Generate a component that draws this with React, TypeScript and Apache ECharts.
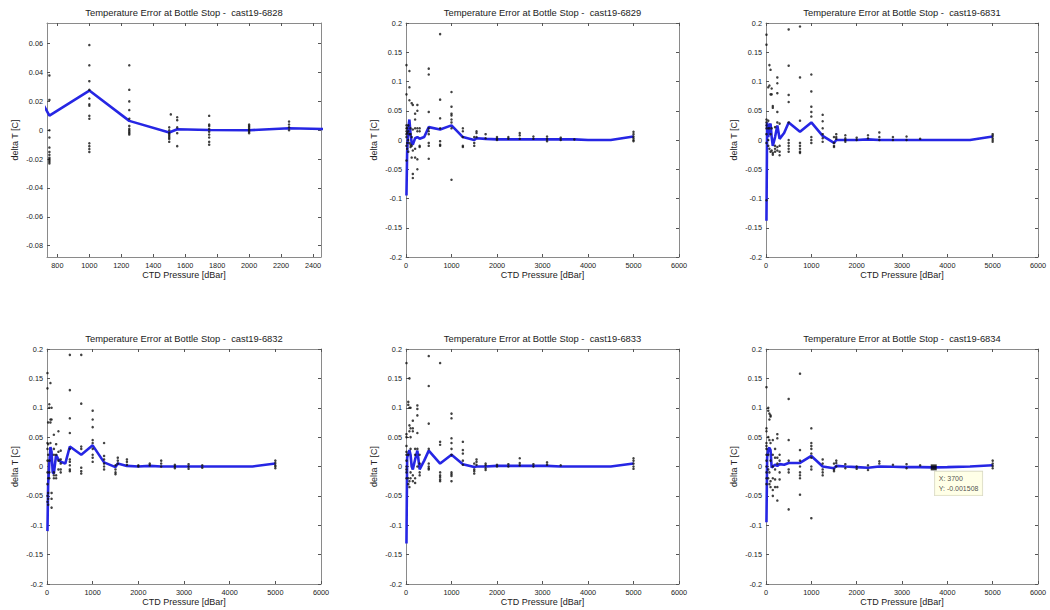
import React, { useEffect, useRef } from "react";
import * as echarts from "echarts";

// ---------------- data ----------------
const stdP = [10, 25, 50, 75, 100, 125, 150, 200, 250, 300, 400, 500, 750, 1000, 1250, 1500, 1550, 1750, 2000, 2250, 2500, 2800, 3100, 3400, 3700, 4000, 4500, 5000];

const p6828 = [500, 750, 1000, 1250, 1500, 1550, 1750, 2000, 2250, 2500];
const mean6828 = [0.06, 0.0102, 0.0275, 0.0065, -0.0016, 0.0007, 0.0002, 0.0, 0.0014, 0.0008];
const mean6829 = [-0.095, -0.02, 0.02, 0.035, 0.01, -0.005, -0.008, 0.003, 0.005, 0.002, 0.005, 0.022, 0.018, 0.025, 0.005, 0.0, 0.003, 0.002, 0.001, 0.001, 0.001, 0.001, 0.001, 0.001, 0.001, 0.0, 0.0, 0.006];
const mean6831 = [-0.138, 0.03, 0.005, 0.025, 0.028, 0.005, -0.01, 0.005, 0.025, 0.002, 0.012, 0.03, 0.014, 0.03, 0.007, -0.005, 0.0, 0.0, 0.0, 0.001, 0.0, 0.0, 0.0, 0.0, 0.0, 0.0, 0.0, 0.006];
const mean6832 = [-0.11, -0.03, 0.005, 0.033, 0.025, -0.01, -0.012, 0.02, 0.012, 0.008, 0.005, 0.034, 0.02, 0.036, 0.007, -0.001, 0.005, 0.001, 0.0, 0.001, 0.0, 0.0, 0.0, 0.0, 0.0, 0.0, 0.0, 0.005];
const mean6833 = [-0.131, 0.015, 0.022, 0.028, 0.02, 0.0, -0.005, 0.012, 0.027, -0.005, 0.01, 0.027, 0.005, 0.02, 0.004, -0.001, 0.0, 0.0, 0.001, 0.001, 0.001, 0.001, 0.001, 0.0, 0.0, 0.0, 0.0, 0.005];
const mean6834 = [-0.095, 0.015, 0.03, 0.032, 0.028, -0.002, 0.0, 0.003, 0.001, 0.004, 0.003, 0.006, 0.006, 0.018, 0.0, -0.003, 0.001, 0.0, -0.001, -0.002, 0.0, -0.0005, -0.001, -0.001, -0.001508, -0.001, 0.0, 0.002];

const pts6828: [number, number[]][] = [
  [750, [0.038, 0.021, 0.0, -0.005, -0.012, -0.015, -0.017, -0.019, -0.02, -0.021, -0.022, -0.023]],
  [1000, [0.059, 0.045, 0.034, 0.028, 0.022, 0.018, 0.017, 0.01, 0.008, -0.009, -0.011, -0.013, -0.015]],
  [1250, [0.045, 0.028, 0.02, 0.014, 0.008, 0.003, 0.001, 0.0, -0.001, -0.002, -0.003]],
  [1500, [0.002, 0.0, -0.002, -0.003, -0.004, -0.005, -0.006, -0.008]],
  [1510, [0.011]],
  [1550, [0.009, 0.007, 0.002, -0.002, -0.011]],
  [1750, [0.01, 0.004, 0.003, 0.001, -0.001, -0.003, -0.005, -0.008, -0.01]],
  [2000, [0.004, 0.003, 0.002, 0.001, 0.0, -0.001, -0.002]],
  [2250, [0.006, 0.004, 0.002, 0.0]],
];
const pts6829: [number, number[]][] = [
  [10, [0.128, 0.078, 0.025, 0.02, 0.015, 0.01, 0.005, -0.01, -0.035]],
  [25, [0.02, 0.012, -0.005, -0.015]],
  [50, [0.025, 0.015, 0.0, -0.02]],
  [75, [0.118, 0.09, 0.068, 0.01, -0.005]],
  [100, [0.02, 0.01, -0.008, -0.012]],
  [125, [0.063, 0.005, -0.01, -0.03]],
  [150, [0.06, 0.018, -0.018, -0.058, -0.065]],
  [200, [0.045, 0.035, 0.02, -0.015, -0.03]],
  [250, [0.06, 0.05, 0.02, 0.015, -0.033, -0.05]],
  [300, [0.02, 0.015, -0.01, -0.012]],
  [500, [0.122, 0.112, 0.048, 0.02, 0.015, 0.01, -0.005, -0.01, -0.032]],
  [750, [0.181, 0.069, 0.037, 0.02, -0.002, -0.008, -0.01]],
  [1000, [0.082, 0.057, 0.045, 0.042, 0.035, 0.03, 0.02, -0.068]],
  [1250, [0.02, 0.015, 0.005, -0.01, -0.012]],
  [1500, [0.005, -0.005, -0.01]],
  [1550, [0.015, 0.012, 0.005]],
  [1750, [0.01, 0.003]],
  [2000, [0.005, 0.002, 0.0]],
  [2250, [0.005, 0.002]],
  [2500, [0.012, 0.008, 0.002]],
  [2800, [0.006, 0.002]],
  [3100, [0.006, 0.002, -0.002]],
  [3400, [0.004, 0.0]],
  [3700, [0.001]],
  [5000, [0.014, 0.01, 0.006, 0.003, 0.0, -0.002]],
];
const pts6831: [number, number[]][] = [
  [10, [0.18, 0.163, 0.035, 0.03, 0.025, 0.02, 0.01, -0.005, -0.103]],
  [50, [0.09, 0.033, 0.02, 0.0, -0.01]],
  [75, [0.128, 0.093, 0.02, -0.015]],
  [100, [0.12, 0.078, 0.01, -0.02]],
  [125, [0.088, 0.078, 0.02, -0.018]],
  [150, [0.058, 0.055, -0.022, -0.025]],
  [200, [0.022, -0.01, -0.015, -0.02]],
  [250, [0.107, 0.097, 0.08, 0.048, 0.03, -0.012, -0.018]],
  [300, [0.028, -0.01, -0.02, -0.026]],
  [500, [0.189, 0.127, 0.077, 0.065, 0.03, 0.0, -0.005, -0.01, -0.015, -0.02]],
  [750, [0.194, 0.107, 0.033, -0.005, -0.01, -0.015, -0.02, -0.022]],
  [1000, [0.112, 0.083, 0.057, 0.048, 0.04, 0.005, 0.0, -0.005]],
  [1250, [0.043, 0.032, 0.02, 0.01, 0.003, -0.003]],
  [1500, [0.005, -0.005, -0.01, -0.012]],
  [1550, [0.01, 0.005, 0.002]],
  [1750, [0.008, 0.003, 0.0, -0.003]],
  [2000, [0.004, 0.0]],
  [2250, [0.008, 0.003]],
  [2500, [0.013, 0.005, 0.0]],
  [2800, [0.005, 0.0]],
  [3100, [0.006, 0.0]],
  [3400, [0.002]],
  [5000, [0.01, 0.007, 0.003, 0.0, -0.003]],
];
const pts6832: [number, number[]][] = [
  [10, [0.159, 0.133, 0.04, 0.03, 0.01, -0.01, -0.03, -0.05, -0.06]],
  [25, [0.075, 0.038, 0.02, -0.02, -0.045, -0.055, -0.065]],
  [50, [0.106, 0.1, 0.01, -0.01, -0.02]],
  [75, [0.142, 0.08, 0.075, 0.04]],
  [100, [0.1, 0.08, -0.045, -0.055, -0.07]],
  [150, [0.054, 0.03, 0.02, -0.01, -0.015, -0.02]],
  [200, [0.038, 0.02, -0.015, -0.02]],
  [250, [0.06, 0.025, 0.01, -0.005]],
  [300, [0.027, 0.012, 0.005, -0.005, -0.01]],
  [500, [0.19, 0.13, 0.082, 0.057, 0.03, 0.012, 0.008, 0.002, -0.005, -0.008]],
  [750, [0.19, 0.107, 0.034, 0.03, -0.002, -0.008, -0.012]],
  [1000, [0.095, 0.08, 0.067, 0.045, 0.04, 0.03, 0.02, 0.015, 0.008]],
  [1250, [0.04, 0.018, 0.012, 0.005, 0.0, -0.005]],
  [1500, [0.002, -0.005, -0.01, -0.013]],
  [1550, [0.015, 0.01, 0.005]],
  [1750, [0.012, 0.008, 0.003]],
  [2000, [0.002, 0.0]],
  [2250, [0.005, 0.002]],
  [2500, [0.01, 0.005, 0.0]],
  [2800, [0.003, 0.0, -0.003]],
  [3100, [0.004, 0.0, -0.004]],
  [3400, [0.002, -0.002]],
  [5000, [0.01, 0.006, 0.002, 0.0, -0.003]],
];
const pts6833: [number, number[]][] = [
  [10, [0.176, 0.055, 0.05, 0.035, 0.025, 0.02, 0.01, 0.0, -0.005, -0.01, -0.02]],
  [50, [0.11, 0.105, 0.02, -0.02, -0.03]],
  [75, [0.15, 0.1, 0.07, 0.06, -0.025, -0.035]],
  [100, [0.1, 0.065, 0.05, 0.03, -0.01, -0.02]],
  [150, [0.078, 0.065, 0.06, -0.015, -0.025]],
  [200, [0.03, 0.02, -0.02, -0.028]],
  [250, [0.104, 0.098, 0.087, 0.057, 0.03, 0.0]],
  [300, [0.02, 0.005, -0.01, -0.015]],
  [500, [0.188, 0.137, 0.073, 0.03, 0.005, 0.0, -0.003, -0.005]],
  [750, [0.176, 0.042, 0.037, -0.01, -0.015, -0.018, -0.022, -0.025]],
  [1000, [0.09, 0.082, 0.048, 0.04, 0.03, 0.02, -0.01, -0.013, -0.016, -0.025]],
  [1250, [0.042, 0.028, 0.022, 0.01, 0.003]],
  [1500, [0.005, -0.005, -0.008, -0.012]],
  [1550, [0.012, 0.008, 0.003]],
  [1750, [0.005, 0.002, -0.003, -0.006]],
  [2000, [0.003, 0.0]],
  [2250, [0.004, 0.0]],
  [2500, [0.014, 0.006, 0.002]],
  [2800, [0.004, 0.0]],
  [3100, [0.007, 0.003]],
  [3400, [0.002]],
  [5000, [0.014, 0.01, 0.005, 0.0, -0.004]],
];
const pts6834: [number, number[]][] = [
  [10, [0.135, 0.065, 0.06, 0.04, 0.035, 0.03, 0.02, 0.01, 0.0, -0.01, -0.02, -0.03]],
  [50, [0.1, 0.095, 0.05, 0.02, -0.005, -0.02]],
  [75, [0.09, 0.08, 0.045, -0.01, -0.03]],
  [100, [0.087, 0.085, 0.04, 0.01, -0.025, -0.035]],
  [150, [0.045, 0.02, 0.0, -0.02, -0.04, -0.05]],
  [200, [0.03, 0.015, -0.005, -0.022, -0.035]],
  [250, [0.055, 0.048, 0.015, 0.005, -0.035, -0.058]],
  [300, [0.02, 0.01, -0.01, -0.022]],
  [500, [0.115, 0.045, 0.01, -0.005, -0.01, -0.073]],
  [750, [0.158, 0.028, 0.01, 0.0, -0.01, -0.015, -0.02, -0.048]],
  [1000, [0.065, 0.04, 0.035, 0.03, 0.022, 0.015, 0.0, -0.005, -0.088]],
  [1250, [0.012, 0.005, -0.005, -0.01, -0.015]],
  [1500, [0.005, -0.005, -0.008]],
  [1550, [0.01, 0.006, 0.0]],
  [1750, [0.004, -0.003]],
  [2000, [0.0, -0.004]],
  [2250, [0.002, -0.006]],
  [2500, [0.009, 0.005]],
  [2800, [0.003]],
  [3100, [0.004, -0.003]],
  [3400, [0.002]],
  [5000, [0.01, 0.005, 0.001, -0.003]],
];

const casts = ["6828", "6829", "6831", "6832", "6833", "6834"];
const lineP = [p6828, stdP, stdP, stdP, stdP, stdP];
const lineMeans = [mean6828, mean6829, mean6831, mean6832, mean6833, mean6834];
const scatterPts = [pts6828, pts6829, pts6831, pts6832, pts6833, pts6834];

// panel 1 uses its own axis ranges
const xTicks6828 = [800, 1000, 1200, 1400, 1600, 1800, 2000, 2200, 2400];
const yTicks6828 = [-0.08, -0.06, -0.04, -0.02, 0, 0.02, 0.04, 0.06];
const datatip: [number, number] = [3700, -0.001508];

const FONT = "'Liberation Sans', Arial, Helvetica, sans-serif";
const TXT = "#222";
const AX = "#8a8a8a";

// layout of the six panels [left, top, width, height]
const boxes = [
  [47, 23, 274, 234],
  [406, 23, 273, 234],
  [766, 23, 272, 234],
  [47, 349, 274, 235],
  [406, 349, 273, 235],
  [766, 349, 272, 235],
];

const plain = (v: number) => String(v);

function buildOption() {
  const grid: any[] = [];
  const xAxis: any[] = [];
  const yAxis: any[] = [];
  const series: any[] = [];
  const title: any[] = [];

  casts.forEach((cast, i) => {
    const [l, t, w, h] = boxes[i];
    grid.push({ left: l, top: t, width: w, height: h, containLabel: false, outerBoundsMode: "none" });
    title.push({
      text: `Temperature Error at Bottle Stop -  cast19-${cast}`,
      left: l + w / 2,
      top: t - 15.5,
      textAlign: "center",
      padding: 0,
      textStyle: { fontSize: 9.4, fontWeight: "normal", color: TXT, fontFamily: FONT },
    });

    const first = i === 0;
    const xr = first ? { min: 735, max: 2450 } : { min: 0, max: 6000, interval: 1000 };
    const yr = first ? { min: -0.0878, max: 0.0743 } : { min: -0.2, max: 0.2, interval: 0.05 };

    const tick = (custom?: number[]) => ({
      show: true,
      inside: true,
      length: 3,
      lineStyle: { color: "#555", width: 1 },
      ...(custom ? { customValues: custom } : {}),
    });
    const line = { show: true, onZero: false, lineStyle: { color: AX, width: 1 } };
    const label = (custom?: number[], margin = 5) => ({
      show: true,
      fontSize: 7.3,
      color: TXT,
      fontFamily: FONT,
      margin,
      showMinLabel: true,
      showMaxLabel: true,
      formatter: plain,
      ...(custom ? { customValues: custom } : {}),
    });

    xAxis.push({
      type: "value",
      gridIndex: i,
      position: "bottom",
      ...xr,
      name: "CTD Pressure [dBar]",
      nameLocation: "middle",
      nameGap: 13,
      nameTextStyle: { fontSize: 9, color: TXT, fontFamily: FONT },
      axisLine: line,
      axisTick: tick(first ? xTicks6828 : undefined),
      axisLabel: label(first ? xTicks6828 : undefined, 5),
      splitLine: { show: false },
    });
    xAxis.push({
      type: "value",
      gridIndex: i,
      position: "top",
      ...xr,
      axisLine: line,
      axisTick: tick(first ? xTicks6828 : undefined),
      axisLabel: { show: false, ...(first ? { customValues: xTicks6828 } : {}) },
      splitLine: { show: false },
    });
    yAxis.push({
      type: "value",
      gridIndex: i,
      position: "left",
      ...yr,
      name: "delta T [C]",
      nameLocation: "middle",
      nameGap: 28,
      nameRotate: 90,
      nameTextStyle: { fontSize: 9, color: TXT, fontFamily: FONT },
      axisLine: line,
      axisTick: tick(first ? yTicks6828 : undefined),
      axisLabel: label(first ? yTicks6828 : undefined, 4),
      splitLine: { show: false },
    });
    yAxis.push({
      type: "value",
      gridIndex: i,
      position: "right",
      ...yr,
      axisLine: line,
      axisTick: tick(first ? yTicks6828 : undefined),
      axisLabel: { show: false, ...(first ? { customValues: yTicks6828 } : {}) },
      splitLine: { show: false },
    });

    series.push({
      type: "line",
      xAxisIndex: 2 * i,
      yAxisIndex: 2 * i,
      data: lineP[i].map((p, k) => [p, lineMeans[i][k]]),
      symbol: "none",
      clip: true,
      lineStyle: { color: "#2626e4", width: 2.6 },
      z: 2,
    });
    const pts: number[][] = [];
    scatterPts[i].forEach(([p, vals]) => vals.forEach((v) => pts.push([p, v])));
    series.push({
      type: "scatter",
      xAxisIndex: 2 * i,
      yAxisIndex: 2 * i,
      data: pts,
      symbol: "circle",
      symbolSize: 2.5,
      clip: true,
      itemStyle: { color: "#111" },
      z: 3,
    });
  });

  // MATLAB-style data tip in the last panel
  series.push({
    type: "scatter",
    xAxisIndex: 10,
    yAxisIndex: 10,
    data: [datatip],
    symbol: "rect",
    symbolSize: 6,
    itemStyle: { color: "#000" },
    z: 5,
    label: {
      show: true,
      position: [4, 7],
      formatter: (p: any) => `X: ${p.value[0]}\nY: ${p.value[1]}`,
      fontSize: 7,
      lineHeight: 10,
      color: TXT,
      fontFamily: FONT,
      backgroundColor: "#ffffe1",
      borderColor: "#c8c8b0",
      borderWidth: 0.6,
      padding: [2, 4],
    },
  });

  return {
    animation: false,
    backgroundColor: "#ffffff",
    textStyle: { fontFamily: FONT },
    title,
    grid,
    xAxis,
    yAxis,
    series,
  };
}

export default function App() {
  const ref = useRef<HTMLDivElement>(null);
  useEffect(() => {
    if (!ref.current) return;
    const chart = echarts.init(ref.current, undefined, { renderer: "svg" });
    chart.setOption(buildOption() as any);
    return () => chart.dispose();
  }, []);
  return (
    <div
      ref={ref}
      style={{ position: "fixed", left: 0, top: 0, width: 1050, height: 610, background: "#fff" }}
    />
  );
}
